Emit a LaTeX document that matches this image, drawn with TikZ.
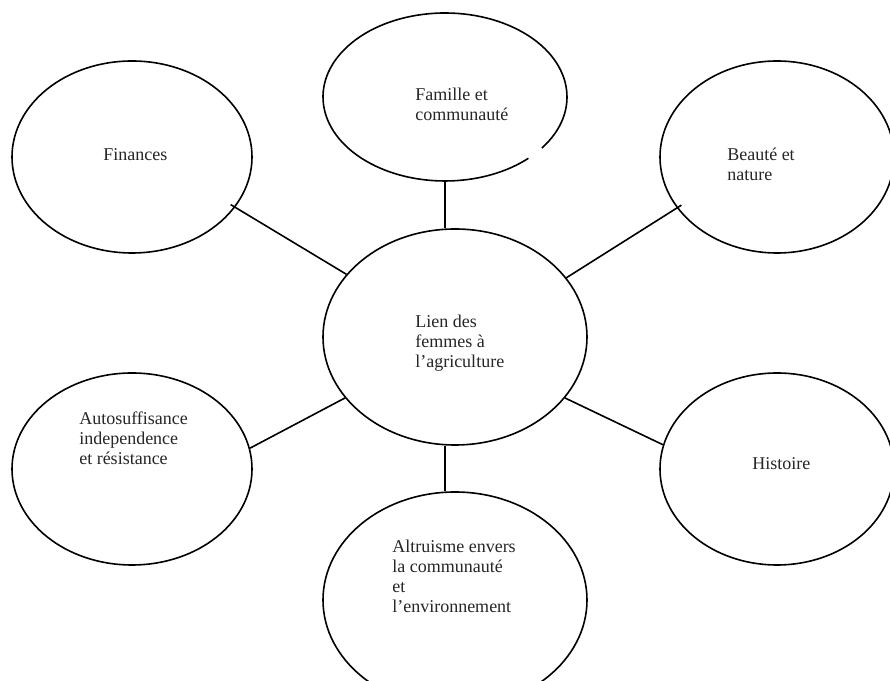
\documentclass[tikz,border=0pt]{standalone}
\usepackage{fontspec}
\setmainfont{Liberation Serif}
\usetikzlibrary{shapes.geometric,calc}
\tikzset{
  bubble/.style={ellipse, draw=black, line width=1.2pt, inner sep=0pt},
  bubblenoline/.style={ellipse, inner sep=0pt},
  label text/.style={anchor=base west, inner sep=0pt, align=left, font=\fontsize{13.5}{15}\selectfont, text=black!85},
  link/.style={draw=black, line width=1.2pt},
}
\begin{document}
\begin{tikzpicture}[x=0.75pt, y=0.75pt]
\useasboundingbox (0,0) rectangle (890,681);
\clip (0,0) rectangle (890,681);
\fill[white] (0,0) rectangle (890,681);
% ellipses
\node[bubblenoline, minimum width=183pt, minimum height=126pt] (fam) at (445,584) {};
\draw[line width=1.2pt] ($(fam.center)+(-37.4:91.5pt and 63pt)$) arc[start angle=-37.4, end angle=313.1, x radius=91.5pt, y radius=63pt];
\node[bubble, minimum width=180pt, minimum height=144pt] (fin) at (132,524) {};
\node[bubble, minimum width=175.5pt, minimum height=144pt] (bea) at (777,524) {};
\node[bubble, minimum width=198pt, minimum height=162pt] (c) at (455,344) {};
\node[bubble, minimum width=180pt, minimum height=144pt] (aut) at (132,212) {};
\node[bubble, minimum width=175.5pt, minimum height=144pt] (his) at (777,212) {};
\node[bubble, minimum width=198pt, minimum height=162pt] (alt) at (455,81) {};
% texts (anchor = baseline of last line)
\node[label text] (famt) at (415,560) {Famille et\\communauté};
\node[label text] (fint) at (103,520) {Finances};
\node[label text] (beat) at (727,500) {Beauté et\\nature};
\node[label text] (ct) at (415,313) {Lien des\\femmes à\\l’agriculture};
\node[label text] (autt) at (79,216) {Autosuffisance\\independence\\et résistance};
\node[label text] (hist) at (752,211) {Histoire};
\node[label text] (altt) at (392,68) {Altruisme envers\\la communauté\\et\\l’environnement};
% connectors
\draw[link] (fam.south) -- (fam.south |- c.north);
\draw[link, shorten >=-4pt] (c.150.9) -- (fin.-26.6);
\draw[link, shorten >=-4pt] (c.28.6) -- (bea.207.3);
\draw[link] (c.209.5) -- (aut.10.8);
\draw[link] (c.331.4) -- (his.168.8);
\draw[link] (c.south -| fam.south) -- (alt.north -| fam.south);
\end{tikzpicture}
\end{document}
